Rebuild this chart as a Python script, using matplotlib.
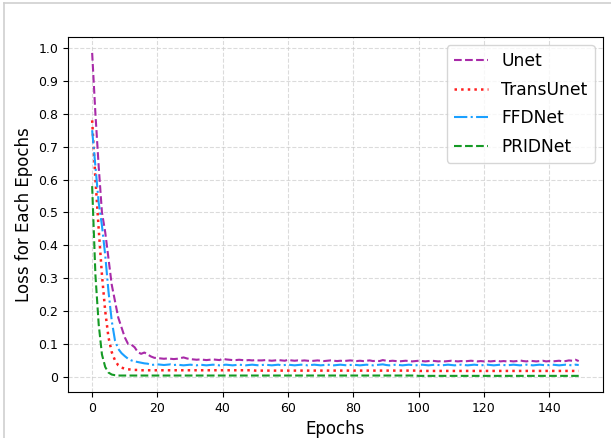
import matplotlib
matplotlib.use("Agg")
import matplotlib.pyplot as plt
from matplotlib.lines import Line2D

epochs = list(range(150))

unet = [
    0.985, 0.80, 0.64, 0.50, 0.44, 0.36, 0.28, 0.23, 0.18, 0.15,
    0.12, 0.10, 0.098, 0.09, 0.075, 0.070, 0.074, 0.068, 0.062, 0.058,
    0.057, 0.056, 0.055, 0.056, 0.055, 0.054, 0.055, 0.057, 0.059, 0.056,
    0.054, 0.053, 0.052, 0.053, 0.052, 0.051, 0.052, 0.053, 0.052, 0.051,
    0.055, 0.053, 0.052, 0.051, 0.051, 0.052, 0.051, 0.050, 0.051, 0.050,
    0.051, 0.050, 0.050, 0.051, 0.050, 0.049, 0.050, 0.051, 0.050, 0.049,
    0.052, 0.050, 0.049, 0.050, 0.049, 0.050, 0.049, 0.048, 0.049, 0.050,
    0.049, 0.048, 0.049, 0.050, 0.049, 0.048, 0.049, 0.048, 0.049, 0.050,
    0.049, 0.048, 0.049, 0.048, 0.049, 0.050, 0.048, 0.049, 0.048, 0.051,
    0.049, 0.048, 0.049, 0.048, 0.047, 0.048, 0.049, 0.048, 0.047, 0.048,
    0.049, 0.048, 0.047, 0.048, 0.049, 0.048, 0.047, 0.048, 0.047, 0.048,
    0.049, 0.048, 0.047, 0.048, 0.047, 0.048, 0.049, 0.048, 0.047, 0.048,
    0.047, 0.048, 0.047, 0.048, 0.049, 0.047, 0.048, 0.047, 0.048, 0.047,
    0.048, 0.050, 0.048, 0.047, 0.049, 0.048, 0.047, 0.048, 0.049, 0.047,
    0.048, 0.047, 0.048, 0.049, 0.047, 0.048, 0.050, 0.049, 0.052, 0.048,
]

transunet = [
    0.78, 0.60, 0.45, 0.31, 0.20, 0.12, 0.075, 0.050, 0.035, 0.028,
    0.025, 0.023, 0.022, 0.021, 0.021, 0.020, 0.020, 0.020, 0.020, 0.020,
    0.020, 0.020, 0.020, 0.020, 0.020, 0.020, 0.020, 0.020, 0.020, 0.020,
    0.020, 0.020, 0.020, 0.020, 0.020, 0.020, 0.020, 0.020, 0.020, 0.020,
    0.020, 0.020, 0.020, 0.020, 0.020, 0.020, 0.020, 0.020, 0.020, 0.020,
    0.019, 0.019, 0.019, 0.019, 0.019, 0.019, 0.019, 0.019, 0.019, 0.019,
    0.019, 0.019, 0.019, 0.019, 0.019, 0.019, 0.019, 0.019, 0.019, 0.019,
    0.019, 0.019, 0.019, 0.019, 0.019, 0.019, 0.019, 0.019, 0.019, 0.019,
    0.019, 0.019, 0.019, 0.019, 0.019, 0.019, 0.019, 0.019, 0.019, 0.019,
    0.019, 0.019, 0.019, 0.019, 0.019, 0.019, 0.019, 0.019, 0.019, 0.019,
    0.018, 0.018, 0.018, 0.018, 0.018, 0.018, 0.018, 0.018, 0.018, 0.018,
    0.018, 0.018, 0.018, 0.018, 0.018, 0.018, 0.018, 0.018, 0.018, 0.018,
    0.018, 0.018, 0.018, 0.018, 0.018, 0.018, 0.018, 0.018, 0.018, 0.018,
    0.018, 0.018, 0.018, 0.018, 0.018, 0.018, 0.018, 0.018, 0.018, 0.018,
    0.018, 0.018, 0.018, 0.018, 0.018, 0.018, 0.018, 0.018, 0.018, 0.018,
]

ffdnet = [
    0.75, 0.64, 0.53, 0.46, 0.37, 0.26, 0.17, 0.11, 0.085, 0.072,
    0.063, 0.055, 0.050, 0.047, 0.045, 0.043, 0.041, 0.040, 0.036, 0.037,
    0.038, 0.037, 0.036, 0.037, 0.038, 0.036, 0.037, 0.036, 0.035, 0.036,
    0.037, 0.036, 0.035, 0.037, 0.036, 0.035, 0.036, 0.037, 0.036, 0.035,
    0.036, 0.037, 0.036, 0.035, 0.036, 0.037, 0.036, 0.035, 0.036, 0.037,
    0.036, 0.035, 0.036, 0.037, 0.036, 0.035, 0.036, 0.037, 0.035, 0.036,
    0.037, 0.036, 0.035, 0.036, 0.037, 0.036, 0.035, 0.036, 0.037, 0.036,
    0.035, 0.036, 0.037, 0.036, 0.035, 0.036, 0.037, 0.036, 0.035, 0.036,
    0.037, 0.036, 0.035, 0.036, 0.037, 0.036, 0.035, 0.036, 0.037, 0.038,
    0.036, 0.035, 0.036, 0.037, 0.036, 0.035, 0.036, 0.037, 0.036, 0.035,
    0.036, 0.037, 0.036, 0.035, 0.036, 0.037, 0.036, 0.035, 0.036, 0.037,
    0.036, 0.035, 0.036, 0.037, 0.036, 0.035, 0.036, 0.037, 0.036, 0.035,
    0.036, 0.037, 0.036, 0.035, 0.036, 0.037, 0.036, 0.035, 0.036, 0.037,
    0.036, 0.035, 0.036, 0.037, 0.036, 0.035, 0.036, 0.037, 0.036, 0.035,
    0.036, 0.037, 0.036, 0.035, 0.036, 0.037, 0.036, 0.035, 0.037, 0.036,
]

pridnet = [
    0.58, 0.31, 0.16, 0.068, 0.030, 0.013, 0.007, 0.005, 0.004, 0.004,
    0.004, 0.004, 0.004, 0.004, 0.004, 0.004, 0.004, 0.004, 0.004, 0.004,
    0.004, 0.004, 0.004, 0.004, 0.004, 0.004, 0.004, 0.004, 0.004, 0.004,
    0.004, 0.004, 0.004, 0.004, 0.004, 0.004, 0.004, 0.004, 0.004, 0.004,
    0.004, 0.004, 0.004, 0.004, 0.004, 0.004, 0.004, 0.004, 0.004, 0.004,
    0.004, 0.004, 0.004, 0.004, 0.004, 0.004, 0.004, 0.004, 0.004, 0.004,
    0.004, 0.004, 0.004, 0.004, 0.004, 0.004, 0.004, 0.004, 0.004, 0.004,
    0.004, 0.004, 0.004, 0.004, 0.004, 0.004, 0.004, 0.004, 0.004, 0.004,
    0.004, 0.004, 0.004, 0.004, 0.004, 0.004, 0.004, 0.004, 0.004, 0.004,
    0.004, 0.004, 0.004, 0.004, 0.004, 0.004, 0.004, 0.004, 0.004, 0.004,
    0.003, 0.003, 0.003, 0.003, 0.003, 0.003, 0.003, 0.003, 0.003, 0.003,
    0.003, 0.003, 0.003, 0.003, 0.003, 0.003, 0.003, 0.003, 0.003, 0.003,
    0.003, 0.003, 0.003, 0.003, 0.003, 0.003, 0.003, 0.003, 0.003, 0.003,
    0.003, 0.003, 0.003, 0.003, 0.003, 0.003, 0.003, 0.003, 0.003, 0.003,
    0.003, 0.003, 0.003, 0.003, 0.003, 0.003, 0.003, 0.003, 0.003, 0.003,
]

labels = ["Unet", "TransUnet", "FFDNet", "PRIDNet"]
yticks = [0, 0.1, 0.2, 0.3, 0.4, 0.5, 0.6, 0.7, 0.8, 0.9, 1.0]
ytick_labels = ["0", "0.1", "0.2", "0.3", "0.4", "0.5", "0.6", "0.7", "0.8", "0.9", "1.0"]

fig = plt.figure(figsize=(6.11, 4.38), dpi=100)
ax = fig.add_axes([0.111, 0.105, 0.876, 0.811])

ax.plot(epochs, unet, linestyle="--", color="#a82aa8", lw=1.5, label=labels[0])
ax.plot(epochs, transunet, linestyle=":", color="#ff2020", lw=1.8, label=labels[1])
ax.plot(epochs, ffdnet, linestyle="-.", color="#1aa0ff", lw=1.5, label=labels[2])
ax.plot(epochs, pridnet, linestyle="--", color="#159a25", lw=1.5, label=labels[3])

ax.set_yticks(yticks)
ax.set_yticklabels(ytick_labels)
ax.tick_params(labelsize=9)
ax.grid(True, linestyle="--", color="#cccccc", alpha=0.7)
ax.set_xlabel("Epochs", fontsize=12)
ax.set_ylabel("Loss for Each Epochs", fontsize=12)
ax.legend(loc="upper right", fontsize=12.3, labelspacing=0.62)

# screenshot frame lines
fig.add_artist(Line2D([0.006, 0.006], [0, 0.993], color="#cfcfcf", lw=1.2))
fig.add_artist(Line2D([0.006, 1.0], [0.993, 0.993], color="#cfcfcf", lw=1.2))

fig.savefig("out.png", dpi=100)
